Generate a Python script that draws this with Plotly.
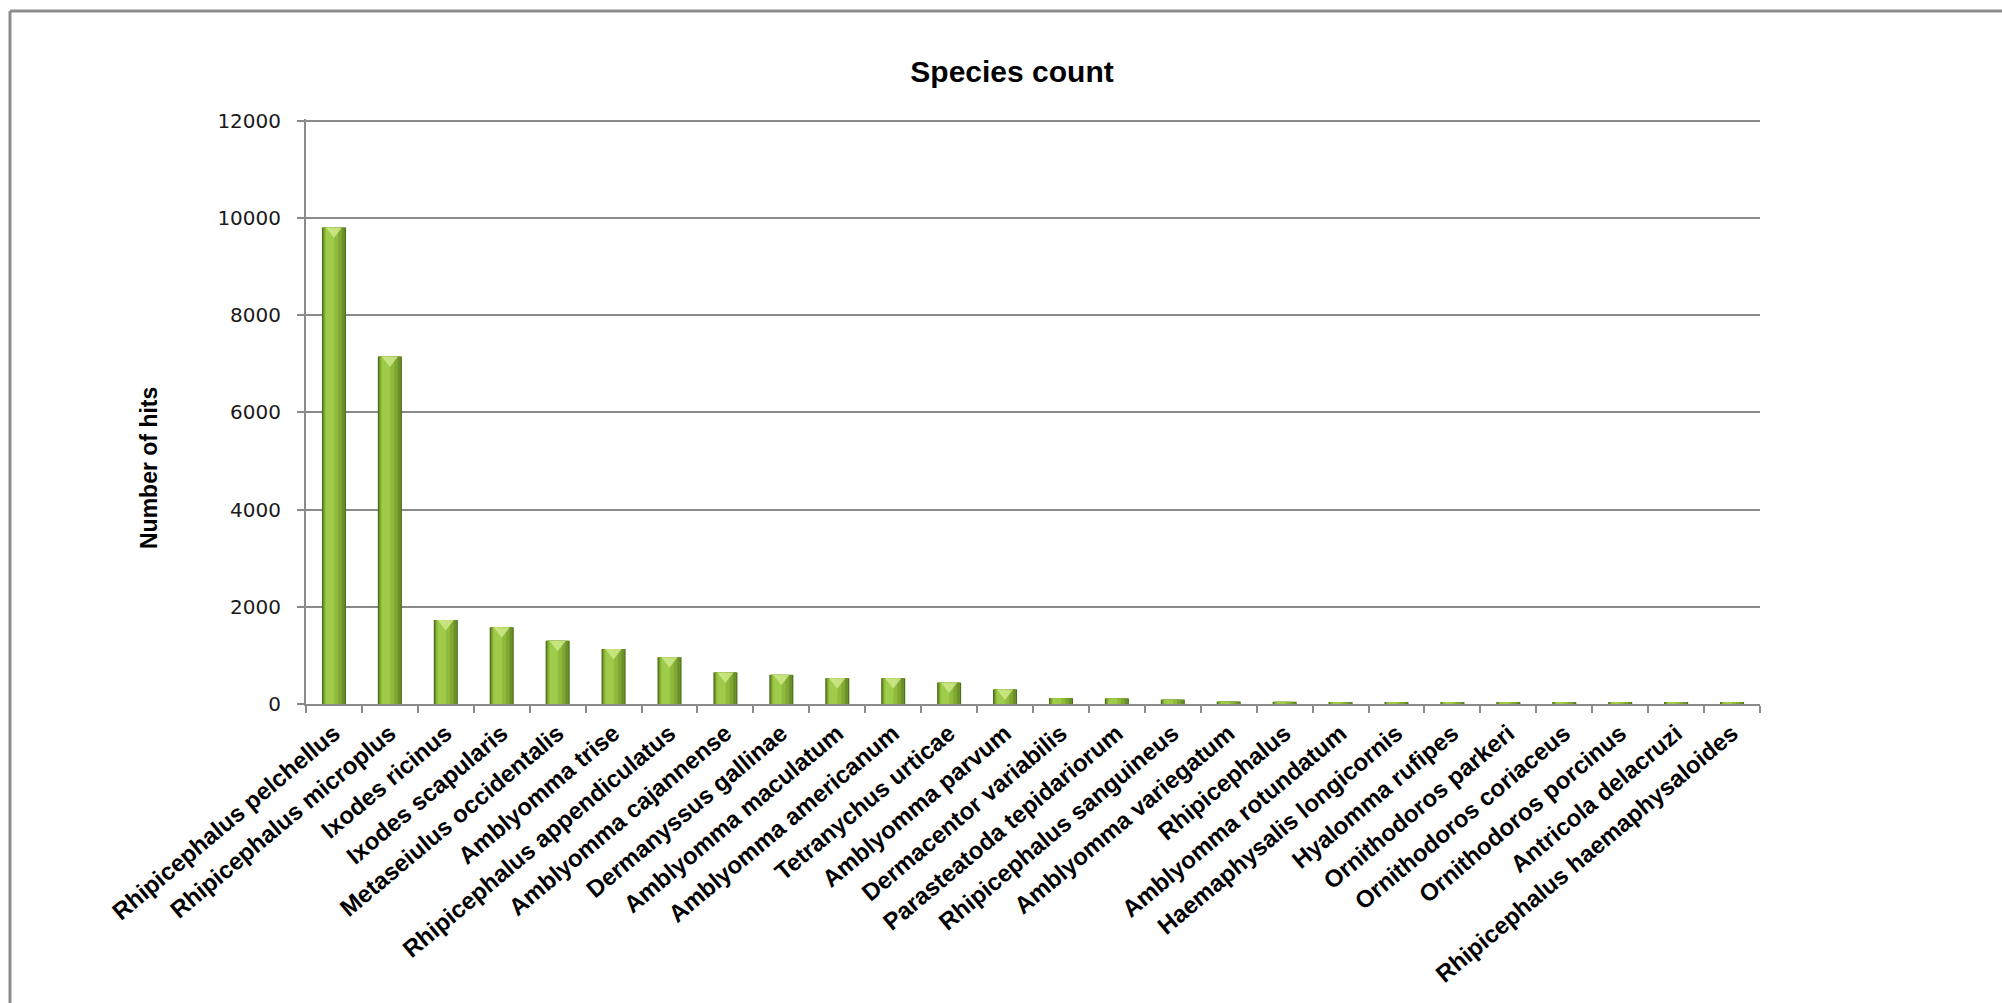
import plotly.graph_objects as go

# Hit counts per species
species = [
    "Rhipicephalus pelchellus", "Rhipicephalus microplus", "Ixodes ricinus",
    "Ixodes scapularis", "Metaseiulus occidentalis", "Amblyomma trise",
    "Rhipicephalus appendiculatus", "Amblyomma cajannense", "Dermanyssus gallinae",
    "Amblyomma maculatum", "Amblyomma americanum", "Tetranychus urticae",
    "Amblyomma parvum", "Dermacentor variabilis", "Parasteatoda tepidariorum",
    "Rhipicephalus sanguineus", "Amblyomma variegatum", "Rhipicephalus",
    "Amblyomma rotundatum", "Haemaphysalis longicornis", "Hyalomma rufipes",
    "Ornithodoros parkeri", "Ornithodoros coriaceus", "Ornithodoros porcinus",
    "Antricola delacruzi", "Rhipicephalus haemaphysaloides",
]
hits = [9800, 7150, 1730, 1580, 1300, 1130, 960, 650, 600, 530, 530, 440,
        300, 120, 115, 90, 50, 45, 25, 25, 25, 25, 25, 25, 25, 25]
y_ticks = [0, 2000, 4000, 6000, 8000, 10000, 12000]

W, H = 2002, 1003
L, R, T, B = 306, 1760, 119, 704   # plot area in pixels
Y_MAX = 12000
GRID = "#8a8a8a"
UNITS_PER_PX = Y_MAX / (B - T)

fig = go.Figure()

# Layered bars give each column a shaded, rounded look
layers = [
    (-0.215, 0.430, "#4f6d1b"),
    (-0.195, 0.390, "#6a9127"),
    (-0.180, 0.320, "#7ea832"),
    (-0.165, 0.240, "#8fbb3c"),
    (-0.145, 0.150, "#9ecb49"),
]
for off, wid, col in layers:
    fig.add_trace(go.Bar(
        x=species, y=hits, offset=off, width=wid,
        marker=dict(color=col, line=dict(width=0)),
        hoverinfo="x+y", showlegend=False,
    ))

# Light bevel on top of each column (only where the column is tall enough)
cap_size = 14
cap_top = cap_size / 4  # px between marker centre and triangle top edge
cap_x = [s for s, v in zip(species, hits) if v > 200]
cap_y = [v - cap_top * UNITS_PER_PX for v in hits if v > 200]
fig.add_trace(go.Scatter(
    x=cap_x, y=cap_y, mode="markers",
    marker=dict(symbol="triangle-down", size=cap_size, color="#cfe98a",
                opacity=0.85, line=dict(width=0)),
    hoverinfo="skip", showlegend=False,
))

def px_x(p):
    return (p - L) / (R - L)

def px_y(p):
    return (B - p) / (B - T)

fig.update_layout(
    width=W, height=H,
    margin=dict(l=L, r=W - R, t=T, b=H - B, pad=0),
    paper_bgcolor="white", plot_bgcolor="white",
    barmode="overlay",
    title=dict(
        text="<b>Species count</b>",
        x=1012 / W, xref="container", xanchor="center",
        y=1 - 71.5 / H, yref="container", yanchor="middle",
        font=dict(family="Liberation Sans, Arial", size=30, color="black"),
    ),
    xaxis=dict(
        type="category", categoryorder="array", categoryarray=species,
        range=[-0.5, len(species) - 0.5],
        showline=True, linecolor=GRID, linewidth=2,
        ticks="outside", tickson="boundaries", ticklen=7, tickcolor=GRID, tickwidth=2,
        tickangle=-40, ticklabelstandoff=4,
        tickfont=dict(family="Liberation Sans, Arial", size=24, color="black", weight="bold"),
        showgrid=False, zeroline=False, fixedrange=True,
    ),
    yaxis=dict(
        # a little headroom so the top gridline is still drawn
        range=[0, Y_MAX + 1.6 * UNITS_PER_PX], tickvals=y_ticks,
        ticktext=[str(v) for v in y_ticks],
        showline=True, linecolor=GRID, linewidth=2,
        ticks="outside", ticklen=7, tickcolor=GRID, tickwidth=2,
        ticklabelstandoff=12,
        showgrid=True, gridcolor=GRID, gridwidth=2, zeroline=False,
        tickfont=dict(family="DejaVu Sans", size=20, color="#1a1a1a"),
        fixedrange=True,
    ),
    annotations=[dict(
        text="<b>Number of hits</b>", textangle=-90,
        xref="paper", yref="paper", x=px_x(149), y=px_y(468),
        xanchor="center", yanchor="middle", showarrow=False,
        font=dict(family="Liberation Sans, Arial", size=23, color="black"),
    )],
    shapes=[
        dict(type="line", xref="paper", yref="paper",
             x0=px_x(10), x1=px_x(W + 20), y0=px_y(11), y1=px_y(11),
             line=dict(color="#8c8c8c", width=3)),
        dict(type="line", xref="paper", yref="paper",
             x0=px_x(10), x1=px_x(10), y0=px_y(11), y1=px_y(H + 20),
             line=dict(color="#8c8c8c", width=3)),
    ],
)

fig.write_html("out.html")
